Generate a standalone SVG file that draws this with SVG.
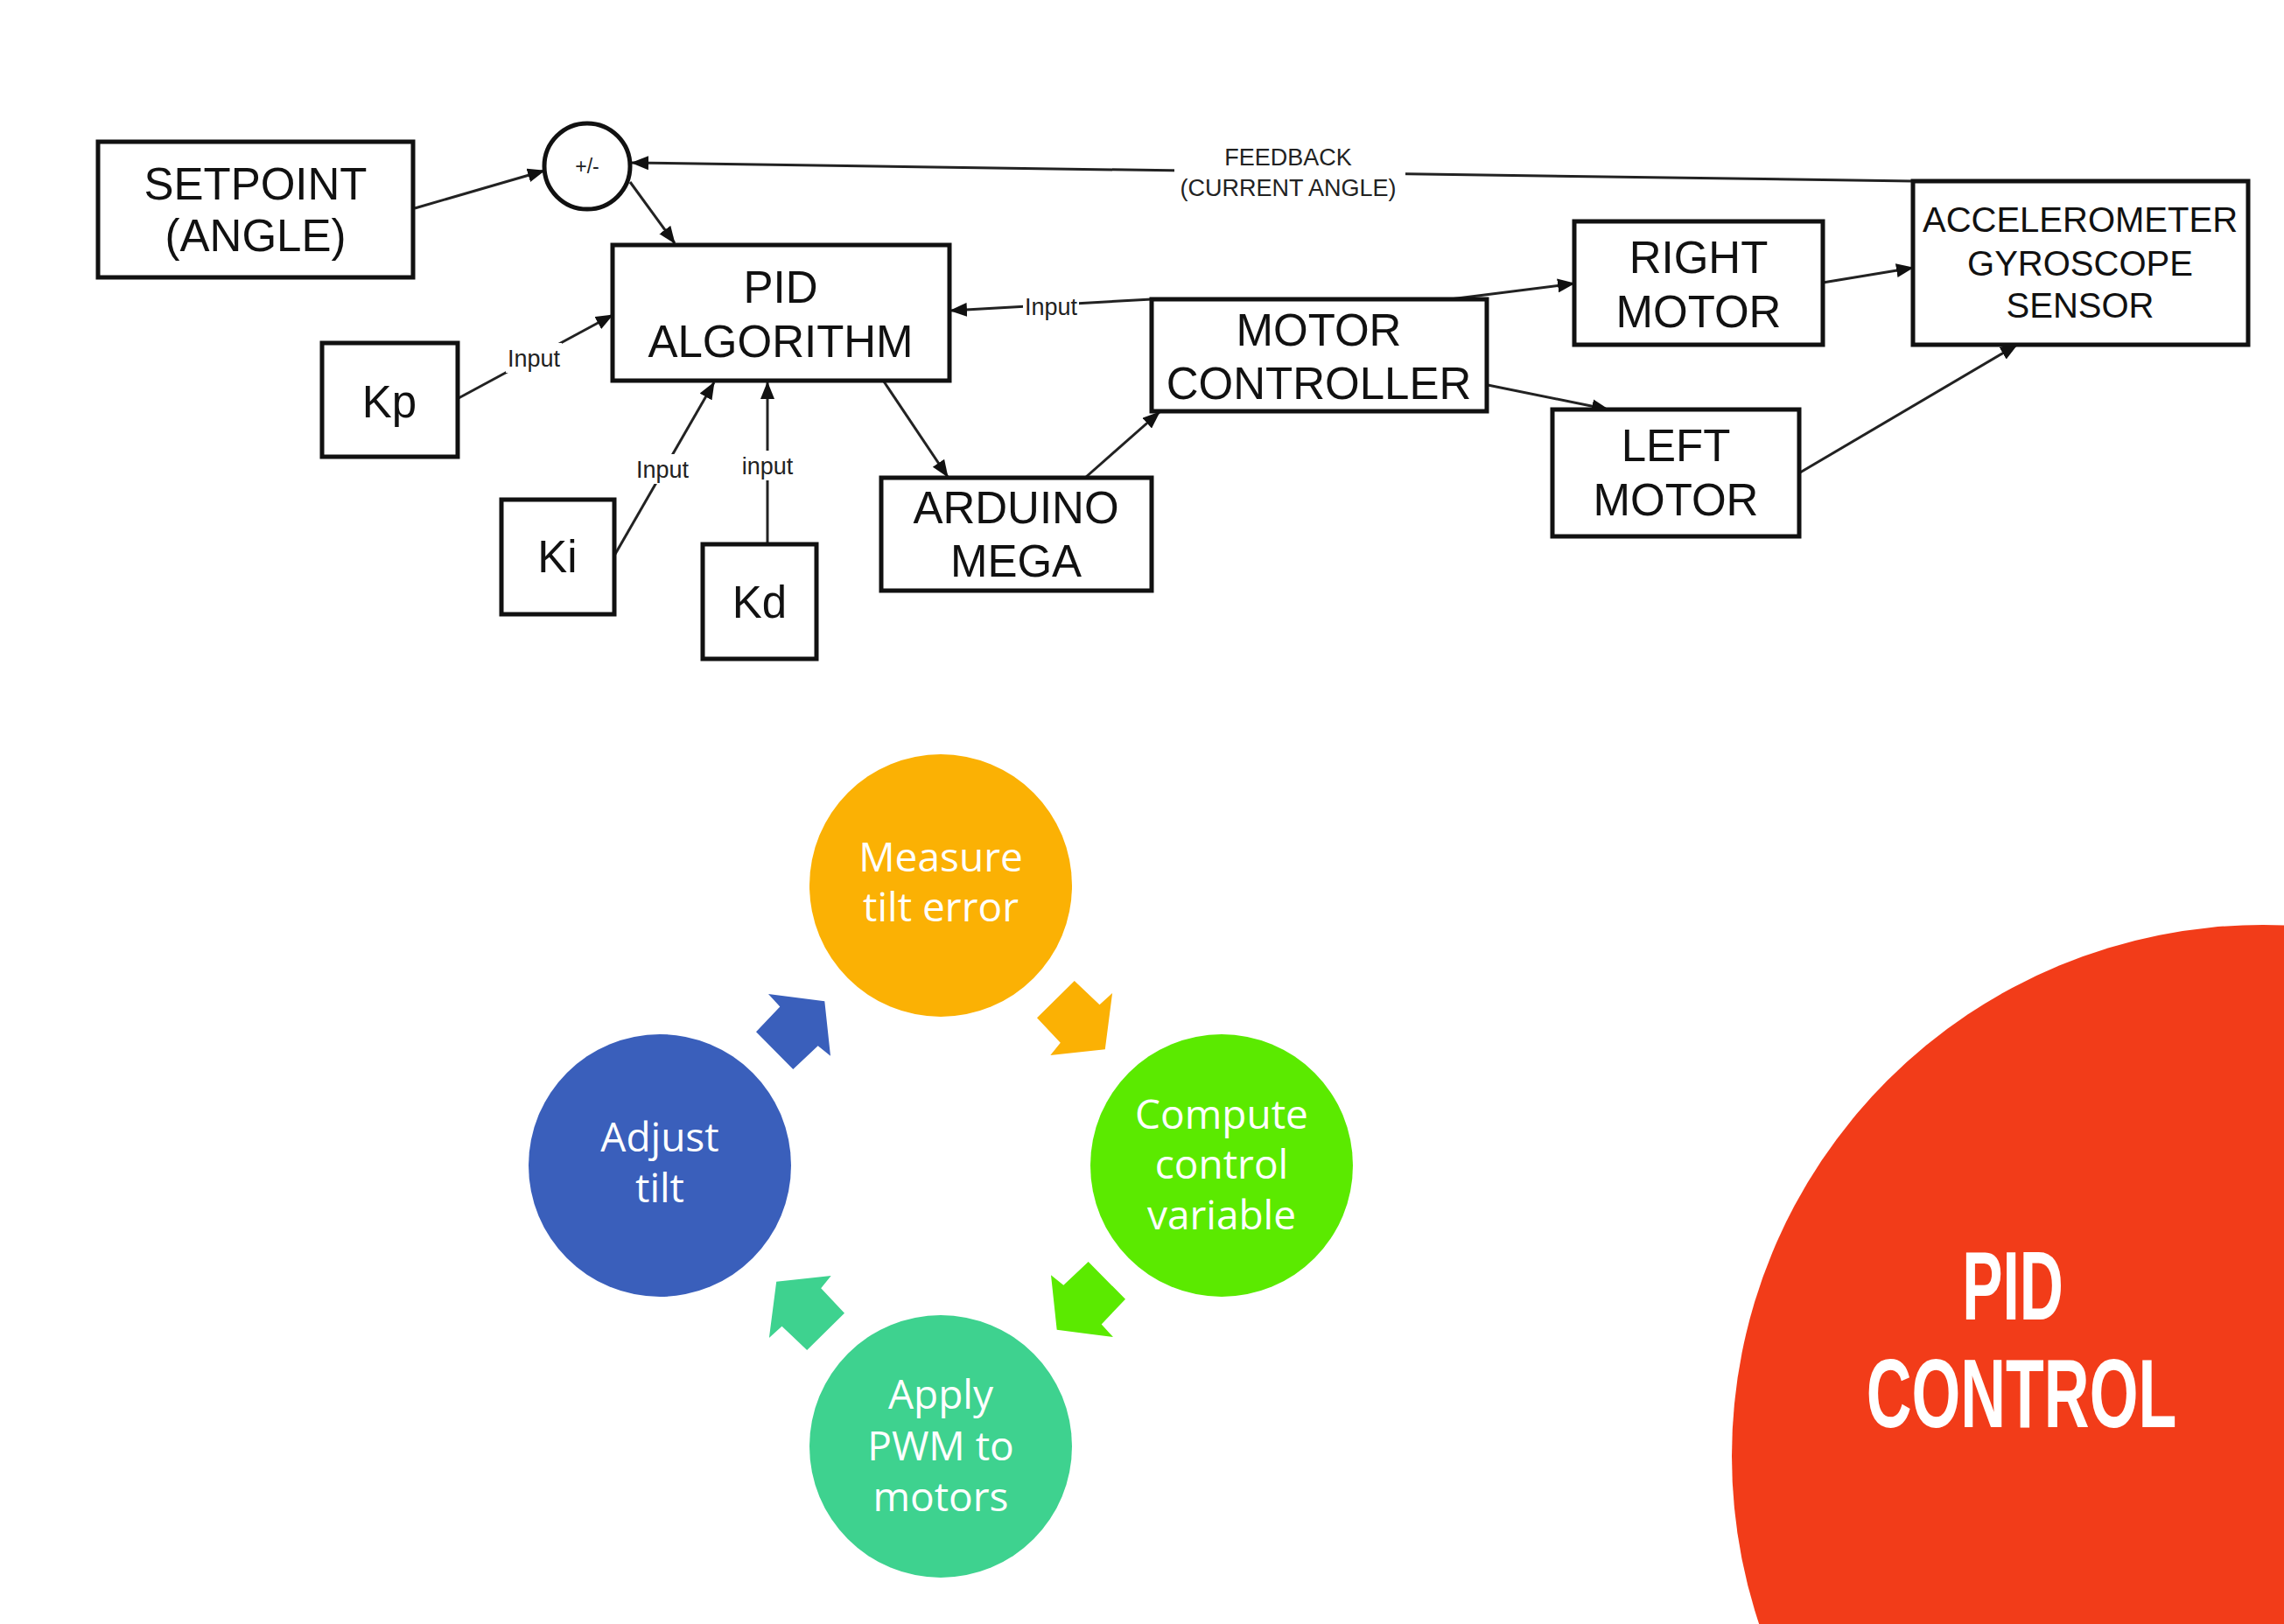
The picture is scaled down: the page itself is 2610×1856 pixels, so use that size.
<svg xmlns="http://www.w3.org/2000/svg" width="2610" height="1856" viewBox="0 0 2610 1856">
<style>
.box{fill:#fff;stroke:#111;stroke-width:5}
.t{font-family:"Liberation Sans",Arial,sans-serif;font-size:51px;fill:#111;text-anchor:middle}
.ts{font-family:"Liberation Sans",Arial,sans-serif;font-size:40px;fill:#111;text-anchor:middle}
.lbl{font-family:"Liberation Sans",Arial,sans-serif;font-size:27px;fill:#222;text-anchor:middle}
.con{stroke:#222;stroke-width:3;fill:none;marker-end:url(#ah)}
.bg{fill:#fff}
.ct{font-family:"Open Sans","Noto Sans",sans-serif;font-size:46px;fill:#fff;text-anchor:middle}
.big{font-family:"Liberation Sans",Arial,sans-serif;font-weight:bold;font-size:112px;fill:#fff;text-anchor:middle}
</style>
<defs>
<marker id="ah" viewBox="0 0 20 16" refX="19" refY="8" markerWidth="20" markerHeight="16" markerUnits="userSpaceOnUse" orient="auto">
<path d="M0,0 L20,8 L0,16 Z" fill="#111"/>
</marker>
<path id="carrow" d="M1227.8,1121 L1256.5,1148.3 L1271.1,1135 L1262.8,1199.3 L1200.3,1206 L1211.8,1191.7 L1185,1163.3 Z"/>
</defs>
<rect width="2610" height="1856" fill="#fff"/>

<g id="connectors">
<line class="con" x1="474" y1="238" x2="622" y2="195"/>
<line class="con" x1="720" y1="208" x2="771" y2="278"/>
<line class="con" x1="2186" y1="207" x2="722" y2="186"/>
<rect class="bg" x="1342" y="160" width="264" height="72"/>
<text class="lbl" x="1472" y="189">FEEDBACK</text>
<text class="lbl" x="1472" y="224">(CURRENT ANGLE)</text>
<line class="con" x1="524" y1="455" x2="700" y2="360"/>
<rect class="bg" x="578" y="392" width="64" height="34"/>
<text class="lbl" x="610" y="419">Input</text>
<line class="con" x1="702" y1="635" x2="816" y2="437"/>
<rect class="bg" x="725" y="519" width="64" height="34"/>
<text class="lbl" x="757" y="546">Input</text>
<line class="con" x1="877" y1="622" x2="877" y2="437"/>
<rect class="bg" x="846" y="515" width="62" height="34"/>
<text class="lbl" x="877" y="542">input</text>
<line class="con" x1="1010" y1="436" x2="1083" y2="545"/>
<line class="con" x1="1240" y1="546" x2="1325" y2="471"/>
<line class="con" x1="1316" y1="342" x2="1086" y2="355"/>
<rect class="bg" x="1169" y="333" width="64" height="34"/>
<text class="lbl" x="1201" y="360">Input</text>
<line class="con" x1="1657" y1="342" x2="1799" y2="324"/>
<line class="con" x1="1700" y1="440" x2="1838" y2="468"/>
<line class="con" x1="2083" y1="323" x2="2186" y2="306"/>
<line class="con" x1="2057" y1="540" x2="2305" y2="394"/>
</g>

<g id="setpoint">
<rect class="box" x="112" y="162" width="360" height="155"/>
<text class="t" x="292" y="228">SETPOINT</text>
<text class="t" x="292" y="287">(ANGLE)</text>
</g>
<g id="sum">
<circle cx="671" cy="190" r="49" fill="#fff" stroke="#111" stroke-width="5"/>
<text class="lbl" x="671" y="198" style="font-size:23px">+/-</text>
</g>
<g id="pid">
<rect class="box" x="700" y="280" width="385" height="155"/>
<text class="t" x="892" y="346">PID</text>
<text class="t" x="892" y="408">ALGORITHM</text>
</g>
<g id="kp">
<rect class="box" x="368" y="392" width="155" height="130"/>
<text class="t" x="445" y="477">Kp</text>
</g>
<g id="ki">
<rect class="box" x="573" y="571" width="129" height="131"/>
<text class="t" x="637" y="654">Ki</text>
</g>
<g id="kd">
<rect class="box" x="803" y="622" width="130" height="131"/>
<text class="t" x="868" y="706">Kd</text>
</g>
<g id="arduino">
<rect class="box" x="1007" y="546" width="309" height="129"/>
<text class="t" x="1161" y="598">ARDUINO</text>
<text class="t" x="1161" y="659">MEGA</text>
</g>
<g id="motorcontroller">
<rect class="box" x="1316" y="342" width="383" height="128"/>
<text class="t" x="1507" y="395">MOTOR</text>
<text class="t" x="1507" y="456">CONTROLLER</text>
</g>
<g id="rightmotor">
<rect class="box" x="1799" y="253" width="284" height="141"/>
<text class="t" x="1941" y="312">RIGHT</text>
<text class="t" x="1941" y="374">MOTOR</text>
</g>
<g id="leftmotor">
<rect class="box" x="1774" y="468" width="282" height="145"/>
<text class="t" x="1915" y="527">LEFT</text>
<text class="t" x="1915" y="589">MOTOR</text>
</g>
<g id="sensor">
<rect class="box" x="2186" y="207" width="383" height="187"/>
<text class="ts" x="2377" y="265">ACCELEROMETER</text>
<text class="ts" x="2377" y="315">GYROSCOPE</text>
<text class="ts" x="2377" y="363">SENSOR</text>
</g>

<g id="cycle-arrows">
<use href="#carrow" fill="#FBB104"/>
<use href="#carrow" fill="#5BEA00" transform="rotate(90 1075 1332)"/>
<use href="#carrow" fill="#3ED28F" transform="rotate(180 1075 1332)"/>
<use href="#carrow" fill="#3A5FBB" transform="rotate(270 1075 1332)"/>
</g>
<g id="measure">
<circle cx="1075" cy="1012" r="150" fill="#FBB104"/>
<text class="ct" x="1075" y="996">Measure</text>
<text class="ct" x="1075" y="1053">tilt error</text>
</g>
<g id="compute">
<circle cx="1396" cy="1332" r="150" fill="#5BEA00"/>
<text class="ct" x="1396" y="1290">Compute</text>
<text class="ct" x="1396" y="1347">control</text>
<text class="ct" x="1396" y="1405">variable</text>
</g>
<g id="apply">
<circle cx="1075" cy="1653" r="150" fill="#3ED28F"/>
<text class="ct" x="1075" y="1610">Apply</text>
<text class="ct" x="1075" y="1669">PWM to</text>
<text class="ct" x="1075" y="1727">motors</text>
</g>
<g id="adjust">
<circle cx="754" cy="1332" r="150" fill="#3A5FBB"/>
<text class="ct" x="754" y="1316">Adjust</text>
<text class="ct" x="754" y="1374">tilt</text>
</g>

<g id="pid-control">
<circle cx="2586" cy="1664" r="607" fill="#F23C19"/>
<text class="big" transform="translate(2300 1508) scale(0.62 1)" x="0" y="0">PID</text>
<text class="big" transform="translate(2310 1631) scale(0.64 1)" x="0" y="0">CONTROL</text>
</g>
</svg>
